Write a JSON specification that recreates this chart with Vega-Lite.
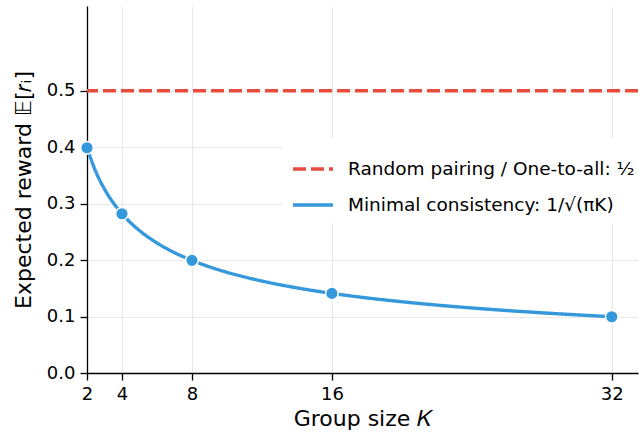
{
  "$schema": "https://vega.github.io/schema/vega-lite/v6.json",
  "width": 551,
  "height": 367,
  "autosize": "none",
  "padding": {"left": 87, "top": 6, "right": 1, "bottom": 64},
  "background": "white",
  "config": {
    "font": "DejaVu Sans",
    "view": {"stroke": null},
    "axis": {
      "labelFont": "DejaVu Sans",
      "titleFont": "DejaVu Sans",
      "labelFontSize": 18,
      "titleFontSize": 22,
      "titleFontWeight": "normal",
      "labelColor": "black",
      "titleColor": "black",
      "domainColor": "black",
      "domainWidth": 1.3,
      "tickColor": "black",
      "tickWidth": 1.3,
      "tickSize": 7,
      "labelPadding": 5,
      "labelFlush": false,
      "gridColor": "#e8e8e8",
      "gridWidth": 1
    },
    "legend": {
      "labelFont": "DejaVu Sans",
      "labelFontSize": 18.5,
      "labelColor": "black",
      "labelLimit": 0
    }
  },
  "datasets": {
    "ref": [
      {"series": "Random pairing / One-to-all: ½", "value": 0.5}
    ],
    "curve": [
      {"series": "Minimal consistency: 1/√(πK)", "K": 2, "value": 0.3989},
      {"series": "Minimal consistency: 1/√(πK)", "K": 2.5, "value": 0.3568},
      {"series": "Minimal consistency: 1/√(πK)", "K": 3, "value": 0.3257},
      {"series": "Minimal consistency: 1/√(πK)", "K": 3.5, "value": 0.3016},
      {"series": "Minimal consistency: 1/√(πK)", "K": 4, "value": 0.2821},
      {"series": "Minimal consistency: 1/√(πK)", "K": 5, "value": 0.2523},
      {"series": "Minimal consistency: 1/√(πK)", "K": 6, "value": 0.2303},
      {"series": "Minimal consistency: 1/√(πK)", "K": 7, "value": 0.2132},
      {"series": "Minimal consistency: 1/√(πK)", "K": 8, "value": 0.1995},
      {"series": "Minimal consistency: 1/√(πK)", "K": 10, "value": 0.1784},
      {"series": "Minimal consistency: 1/√(πK)", "K": 12, "value": 0.1629},
      {"series": "Minimal consistency: 1/√(πK)", "K": 14, "value": 0.1508},
      {"series": "Minimal consistency: 1/√(πK)", "K": 16, "value": 0.1410},
      {"series": "Minimal consistency: 1/√(πK)", "K": 20, "value": 0.1262},
      {"series": "Minimal consistency: 1/√(πK)", "K": 24, "value": 0.1152},
      {"series": "Minimal consistency: 1/√(πK)", "K": 28, "value": 0.1066},
      {"series": "Minimal consistency: 1/√(πK)", "K": 32, "value": 0.0997}
    ],
    "dots": [
      {"K": 2, "value": 0.3989},
      {"K": 4, "value": 0.2821},
      {"K": 8, "value": 0.1995},
      {"K": 16, "value": 0.1410},
      {"K": 32, "value": 0.0997}
    ]
  },
  "encoding": {
    "y": {
      "field": "value",
      "type": "quantitative",
      "scale": {"domain": [0, 0.65], "nice": false, "zero": false},
      "axis": {
        "values": [0, 0.1, 0.2, 0.3, 0.4, 0.5],
        "format": ".1f",
        "title": "Expected reward 𝔼[𝑟ᵢ]",
        "titleX": -52,
        "titleY": 183.5,
        "titleAngle": -90,
        "titleAlign": "center",
        "titleBaseline": "bottom"
      }
    }
  },
  "layer": [
    {
      "data": {"name": "ref"},
      "mark": {"type": "rule", "strokeWidth": 3.4},
      "encoding": {
        "color": {
          "field": "series",
          "type": "nominal",
          "scale": {
            "domain": ["Random pairing / One-to-all: ½", "Minimal consistency: 1/√(πK)"],
            "range": ["#e74c3c", "#3498db"]
          },
          "legend": {
            "title": null,
            "orient": "none",
            "legendX": 196,
            "legendY": 133,
            "symbolType": "stroke",
            "symbolSize": 1600,
            "symbolStrokeWidth": 3.4,
            "labelOffset": 13,
            "rowPadding": 4,
            "padding": 8,
            "fillColor": "white",
            "strokeColor": null
          }
        },
        "strokeDash": {
          "field": "series",
          "type": "nominal",
          "scale": {
            "domain": ["Random pairing / One-to-all: ½", "Minimal consistency: 1/√(πK)"],
            "range": [[13, 5], [1, 0]]
          },
          "legend": null
        }
      }
    },
    {
      "data": {"name": "curve"},
      "mark": {"type": "line", "strokeWidth": 3.4, "interpolate": "monotone"},
      "encoding": {
        "x": {
          "field": "K",
          "type": "quantitative",
          "scale": {"domain": [2, 33.5], "nice": false, "zero": false},
          "axis": {
            "values": [2, 4, 8, 16, 32],
            "title": "Group size 𝐾",
            "titlePadding": 5
          }
        },
        "color": {"field": "series", "type": "nominal"},
        "strokeDash": {"field": "series", "type": "nominal"}
      }
    },
    {
      "data": {"name": "dots"},
      "mark": {
        "type": "point",
        "filled": true,
        "size": 160,
        "fill": "#3498db",
        "stroke": "white",
        "strokeWidth": 1.5,
        "opacity": 1
      },
      "encoding": {
        "x": {"field": "K", "type": "quantitative"}
      }
    }
  ]
}
